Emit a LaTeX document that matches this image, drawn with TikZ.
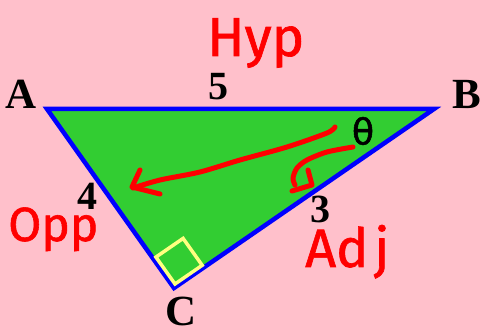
\documentclass[tikz,border=0pt]{standalone}
\usepackage{fontspec}
\setmainfont{Liberation Serif}
\newfontfamily\handfont[FakeBold=1.2]{Fira Sans}
\newfontfamily\symfont[FakeBold=1.5]{DejaVu Sans}
\definecolor{bgpink}{RGB}{255,192,203}
\definecolor{trigreen}{RGB}{50,205,50}
\definecolor{sqyellow}{RGB}{255,255,128}
\begin{document}
\begin{tikzpicture}[x=1pt,y=-1pt,
  vlabel/.style={font=\fontsize{43}{43}\selectfont\bfseries, inner sep=0pt, anchor=base},
  slabel/.style={font=\fontsize{40}{40}\selectfont\bfseries, inner sep=0pt, anchor=base},
  hand/.style={font=\handfont\fontsize{52}{52}\selectfont, text=red, inner sep=0pt, anchor=base west},
  redstroke/.style={draw=red, line width=5pt, line cap=round, line join=round},
  tri/.style={fill=trigreen, draw=blue, line width=4.5pt, line join=miter},
  rightsq/.style={draw=sqyellow, line width=3.5pt, line join=miter}
]
\fill[bgpink] (0,0) rectangle (480,331);
\useasboundingbox (0,0) rectangle (480,331);
% vertices
\coordinate (A) at (47,109);
\coordinate (B) at (434,109);
\coordinate (C) at (174,288);
\filldraw[tri] (A) -- (B) -- (C) -- cycle;
% right angle mark
\coordinate (S0) at (175,284);
\coordinate (S1) at (155.9,257.1);
\coordinate (S2) at (183.1,238.4);
\coordinate (S3) at (202.2,265.3);
\draw[rightsq] (S0) -- (S1) -- (S2) -- (S3) -- cycle;
% vertex labels
\node[vlabel] (la) at (21.5,109) {A};
\node[vlabel] (lb) at (467,109) {B};
\node[vlabel] (lc) at (181,325.5) {C};
% side labels
\node[slabel] (l5) at (218,100) {5};
\node[slabel] (l4) at (87,210) {4};
\node[slabel] (l3) at (320,223) {3};
% handwritten labels
\node[hand, font=\handfont\fontsize{55}{55}\selectfont] (hyp) at (207,56) {Hyp};
\node[hand, font=\handfont\fontsize{48}{48}\selectfont] (opp) at (8,241) {Opp};
\node[hand, font=\handfont\fontsize{54}{54}\selectfont] (adj) at (305,267) {Ad\hspace{6pt}j};
% theta
\node[font=\symfont\fontsize{36}{36}\selectfont, inner sep=0pt] (theta) at (363,131) {θ};
% red arrows
\draw[redstroke] plot[smooth] coordinates {(335,127) (327,133) (287,147) (240,160) (200,172) (160,180) (133,188)};
\coordinate (h1a) at (140,170);
\coordinate (h1b) at (132,187);
\coordinate (h1c) at (160,194);
\draw[redstroke] (h1a) -- (h1b) -- (h1c);
\draw[redstroke] plot[smooth] coordinates {(353,147) (327,152) (307,160) (297,168) (293,178) (295,185)};
\coordinate (h2a) at (308,170);
\coordinate (h2b) at (312,185);
\coordinate (h2c) at (292,191);
\draw[redstroke] (h2a) -- (h2b) -- (h2c);
\end{tikzpicture}
\end{document}
